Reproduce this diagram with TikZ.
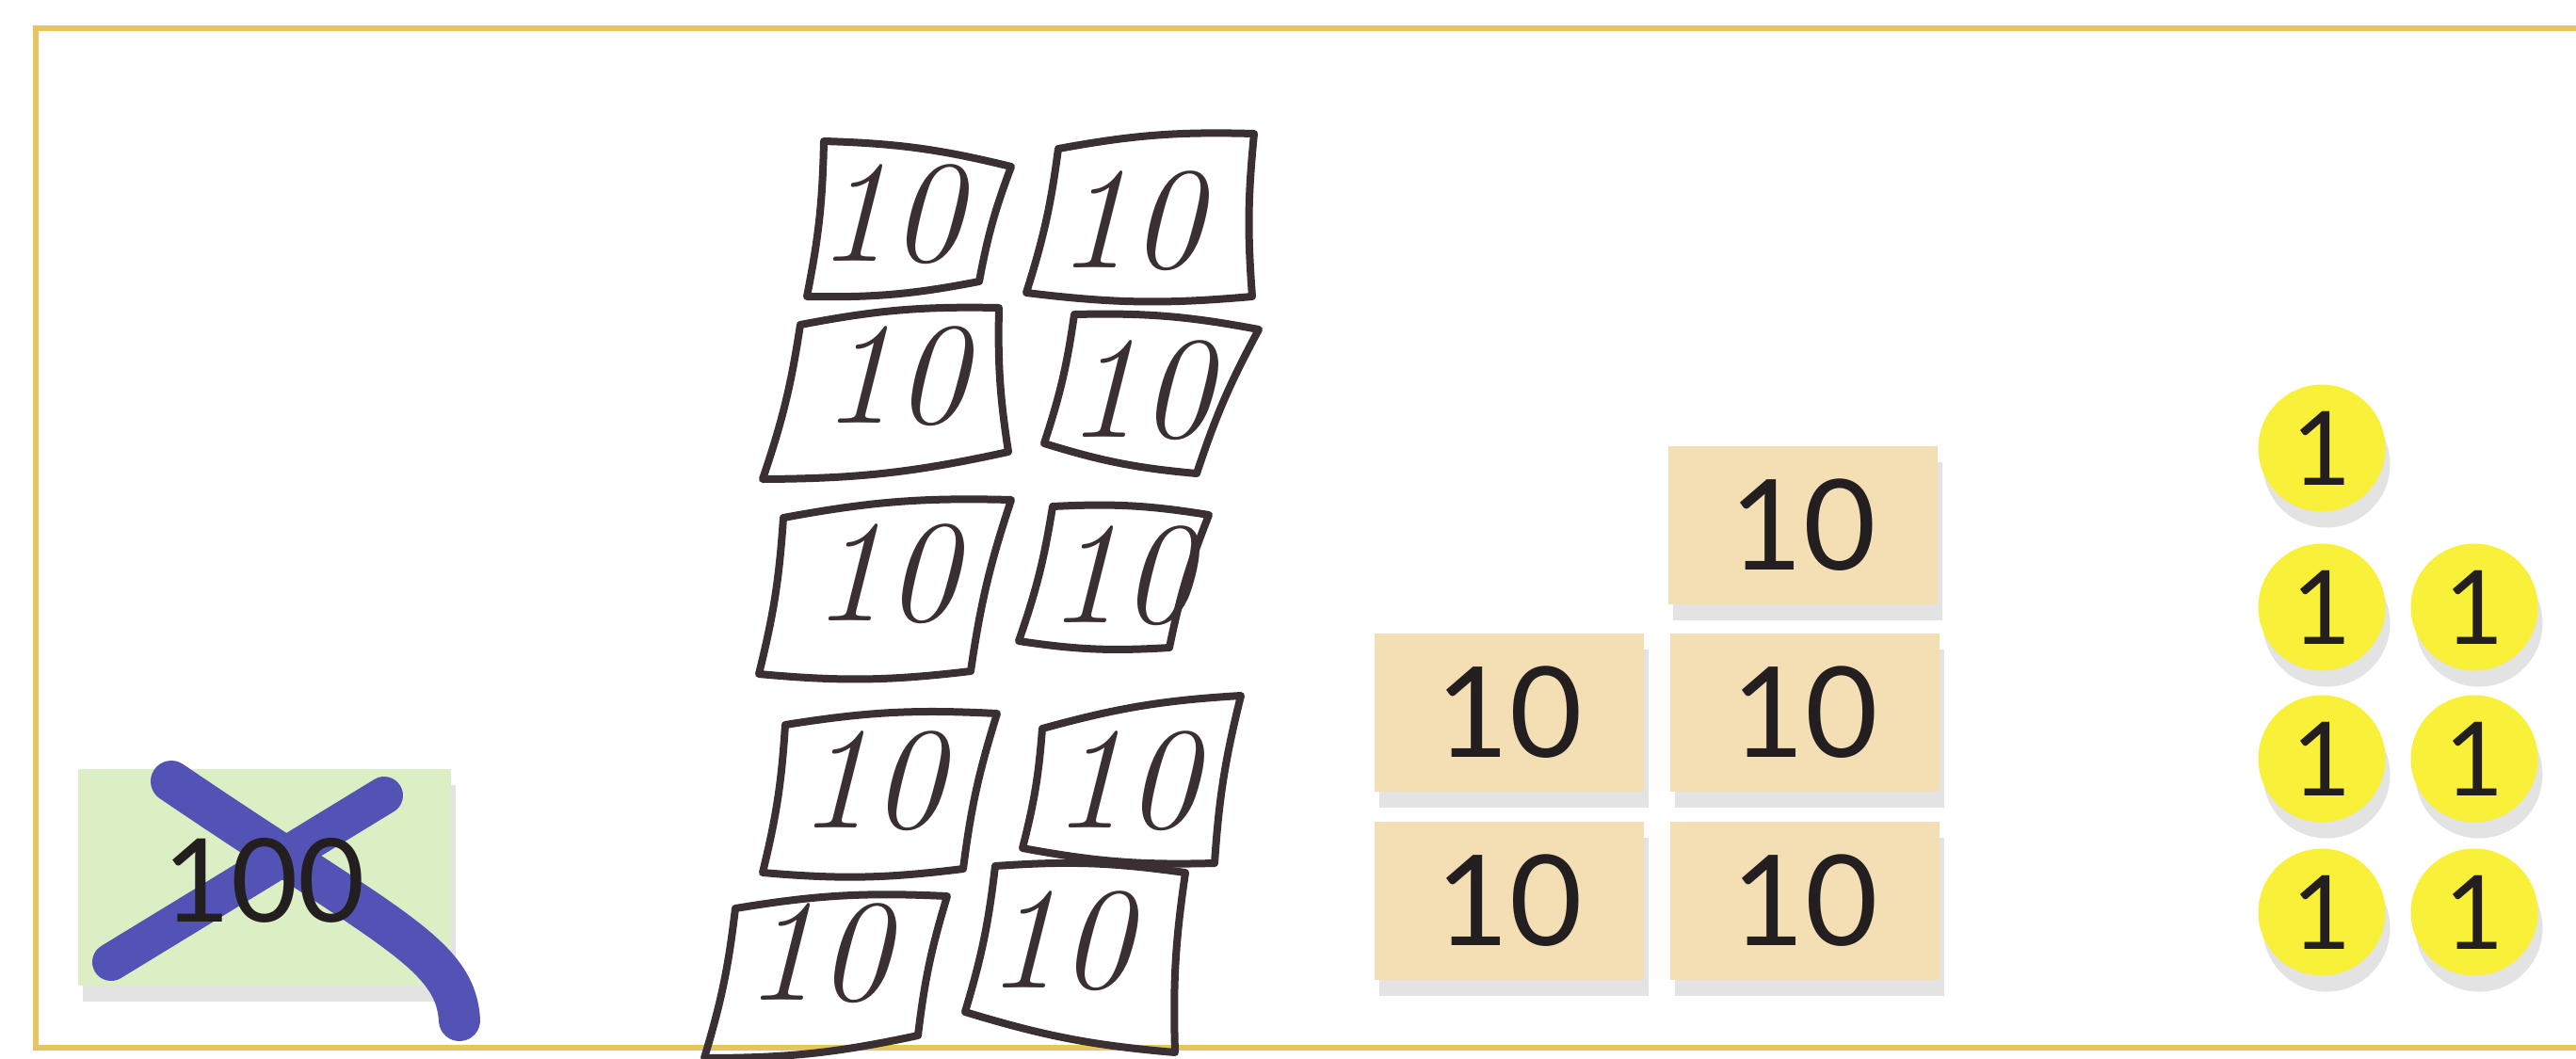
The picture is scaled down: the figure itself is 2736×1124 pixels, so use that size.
\documentclass[tikz,border=0pt]{standalone}
\usepackage{fontspec}
\usetikzlibrary{shadows}
\newfontfamily\tilefont{Lato}
\definecolor{rim}{HTML}{E8C45C}
\definecolor{hundred}{HTML}{DCEFC4}
\definecolor{ten}{HTML}{F4DFB4}
\definecolor{one}{HTML}{F9F03A}
\definecolor{cross}{HTML}{5352B5}
\definecolor{pencil}{HTML}{3A2F32}
\definecolor{ink}{HTML}{231F20}
\tikzset{px/.style={x=.1mm,y=-.1mm,line width=.4pt},
  lift/.style={drop shadow={shadow xshift=.5mm,shadow yshift=-1.7mm,fill=black!22}},
  tile/.style={lift,fill=ten,minimum width=28.6mm,minimum height=16.8mm,inner sep=0pt,text=ink,font=\tilefont\fontsize{38}{40}\selectfont},
  coin/.style={lift,circle,fill=one,minimum size=13.5mm,inner sep=0pt,text=ink,font=\tilefont\fontsize{31}{33}\selectfont},
  card/.style={pencil,line width=.8mm,line cap=round,line join=round},
  scrawl/.style={pencil,inner sep=0pt,font=\itshape\fontsize{44}{46}\selectfont}}

\begin{document}
\begin{tikzpicture}[px]
  \useasboundingbox (0,0) rectangle (2736,1124);
  \draw[rim,line width=.6mm] (2736,30)--(38,30)--(38,1113)--(2736,1113);
  \node[lift,fill=hundred,minimum width=39.6mm,minimum height=23mm] (h) at (281,932) {};
  \draw[cross,line width=4.4mm,line cap=round] (182,830) .. controls (410,985) and (484,1012) .. (488,1084);
  \draw[cross,line width=4mm,line cap=round] (408,845)--(118,1022);
  \node[text=ink,font=\tilefont\fontsize{35}{37}\selectfont] (hl) at (281,935) {100};
  \foreach \ax/\ay/\bx/\by/\cx/\cy/\dx/\dy/\tx/\ty [count=\i] in {
      875/150/1074/177/1040/299/857/315/945/228, 1124/158/1332/142/1330/315/1090/311/1200/235,
      850/345/1061/327/1071/480/810/509/950/400, 1141/334/1337/350/1271/503/1109/471/1210/415,
      832/550/1074/531/1031/713/806/716/940/610, 1118/538/1284/547/1242/688/1082/681/1190/612,
      834/770/1059/758/1023/923/810/927/925/830, 1107/774/1318/739/1290/917/1086/901/1195/830,
      781/965/1006/952/975/1100/748/1124/868/1013, 1057/920/1259/927/1248/1118/1025/1075/1125/1000}
    {\draw[card] (\ax,\ay) to[bend left=6] (\bx,\by) to[bend right=5] (\cx,\cy) to[bend left=6] (\dx,\dy) to[bend right=5] (\ax,\ay)--cycle;
     \node[scrawl] (s\i) at (\tx,\ty) {10};}
  \foreach \x/\y [count=\i] in {1915/558,1603/757,1917/757,1603/957,1917/957}
    \node[tile] (t\i) at (\x,\y) {10};
  \foreach \x/\y [count=\i] in {2466/476,2466/645,2628/645,2466/806,2628/806,2466/969,2628/969}
    \node[coin] (c\i) at (\x,\y) {1};
\end{tikzpicture}
\end{document}
